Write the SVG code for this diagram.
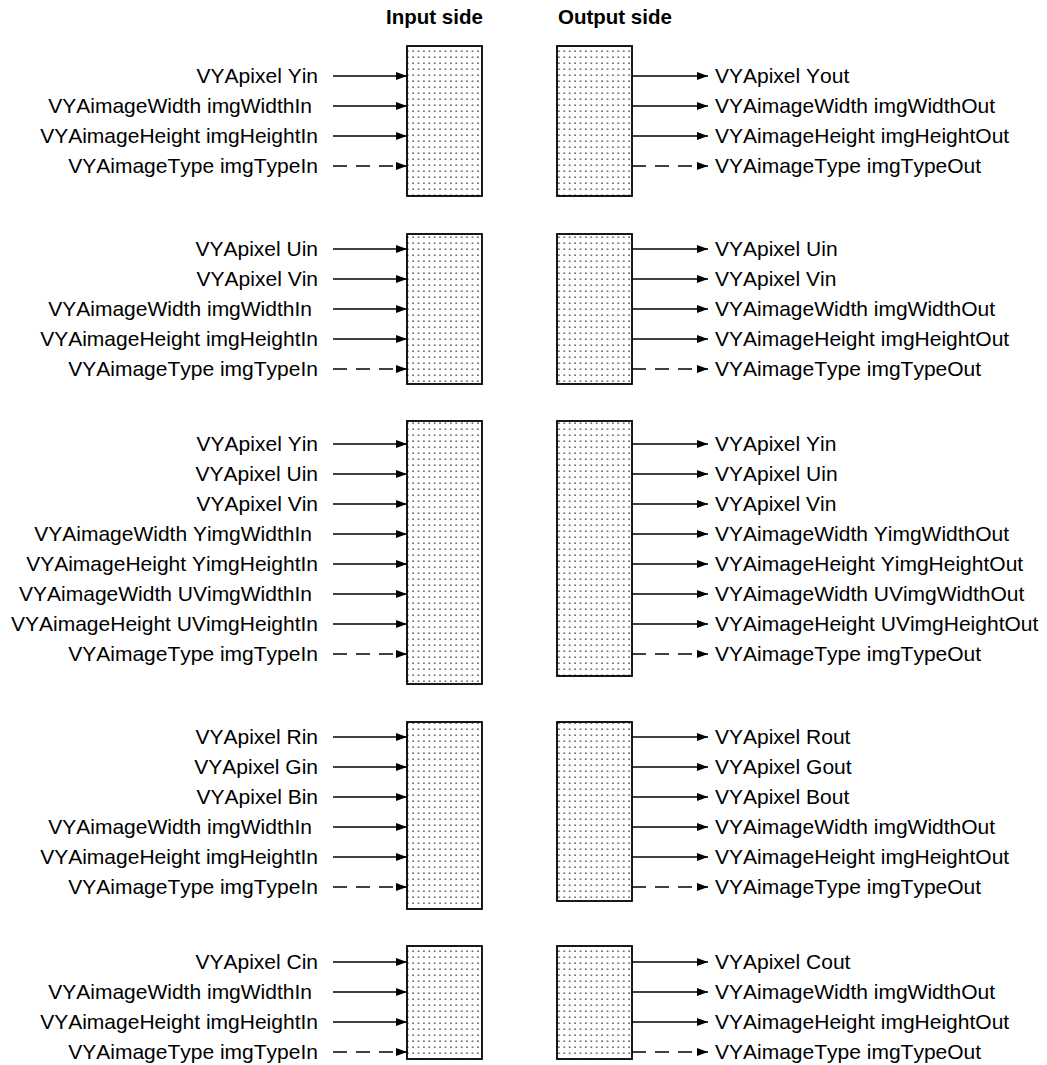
<svg xmlns="http://www.w3.org/2000/svg" width="1047" height="1065" viewBox="0 0 1047 1065">
<defs>
<style>
text{font-family:"Liberation Sans",Arial,sans-serif;font-size:21px;fill:#000;font-kerning:none}
.hdr{font-weight:bold;font-size:20.5px}
.in{text-anchor:end}
.box{fill:url(#dots);stroke:#000;stroke-width:1.8}
.c{stroke:#000;stroke-width:1.6;fill:none;marker-end:url(#ah)}
.d{stroke-dasharray:14,9}
</style>
<pattern id="dots" x="0" y="0" width="5.4" height="6" patternUnits="userSpaceOnUse">
<rect width="5.4" height="6" fill="#fff"/>
<rect x="2" y="2.5" width="1.4" height="1.4" fill="#333"/>
</pattern>
<marker id="ah" viewBox="0 0 11 8" refX="11" refY="4" markerWidth="11" markerHeight="8" markerUnits="userSpaceOnUse" orient="auto">
<path d="M0,0 L11,4 L0,8 z" fill="#000"/>
</marker>
</defs>
<rect width="1047" height="1065" fill="#fff"/>
<text class="hdr" x="386" y="24">Input side</text>
<text class="hdr" x="558" y="24">Output side</text>

<g id="in1"><rect class="box" x="407" y="46" width="75" height="150"/></g>
<g id="out1"><rect class="box" x="557" y="46" width="75" height="150"/></g>
<g id="in2"><rect class="box" x="407" y="234" width="75" height="150"/></g>
<g id="out2"><rect class="box" x="557" y="234" width="75" height="150"/></g>
<g id="in3"><rect class="box" x="407" y="421" width="75" height="263"/></g>
<g id="out3"><rect class="box" x="557" y="421" width="75" height="255"/></g>
<g id="in4"><rect class="box" x="407" y="722" width="75" height="187"/></g>
<g id="out4"><rect class="box" x="557" y="722" width="75" height="179"/></g>
<g id="in5"><rect class="box" x="407" y="946" width="75" height="113"/></g>
<g id="out5"><rect class="box" x="557" y="946" width="75" height="113"/></g>

<g id="connectors">
<line class="c" x1="333" y1="76" x2="407" y2="76"/>
<line class="c" x1="333" y1="106" x2="407" y2="106"/>
<line class="c" x1="333" y1="136" x2="407" y2="136"/>
<line class="c d" x1="333" y1="166" x2="407" y2="166"/>
<line class="c" x1="632" y1="76" x2="708" y2="76"/>
<line class="c" x1="632" y1="106" x2="708" y2="106"/>
<line class="c" x1="632" y1="136" x2="708" y2="136"/>
<line class="c d" x1="632" y1="166" x2="708" y2="166"/>

<line class="c" x1="333" y1="249" x2="407" y2="249"/>
<line class="c" x1="333" y1="279" x2="407" y2="279"/>
<line class="c" x1="333" y1="309" x2="407" y2="309"/>
<line class="c" x1="333" y1="339" x2="407" y2="339"/>
<line class="c d" x1="333" y1="369" x2="407" y2="369"/>
<line class="c" x1="632" y1="249" x2="708" y2="249"/>
<line class="c" x1="632" y1="279" x2="708" y2="279"/>
<line class="c" x1="632" y1="309" x2="708" y2="309"/>
<line class="c" x1="632" y1="339" x2="708" y2="339"/>
<line class="c d" x1="632" y1="369" x2="708" y2="369"/>

<line class="c" x1="333" y1="444" x2="407" y2="444"/>
<line class="c" x1="333" y1="474" x2="407" y2="474"/>
<line class="c" x1="333" y1="504" x2="407" y2="504"/>
<line class="c" x1="333" y1="534" x2="407" y2="534"/>
<line class="c" x1="333" y1="564" x2="407" y2="564"/>
<line class="c" x1="333" y1="594" x2="407" y2="594"/>
<line class="c" x1="333" y1="624" x2="407" y2="624"/>
<line class="c d" x1="333" y1="654" x2="407" y2="654"/>
<line class="c" x1="632" y1="444" x2="708" y2="444"/>
<line class="c" x1="632" y1="474" x2="708" y2="474"/>
<line class="c" x1="632" y1="504" x2="708" y2="504"/>
<line class="c" x1="632" y1="534" x2="708" y2="534"/>
<line class="c" x1="632" y1="564" x2="708" y2="564"/>
<line class="c" x1="632" y1="594" x2="708" y2="594"/>
<line class="c" x1="632" y1="624" x2="708" y2="624"/>
<line class="c d" x1="632" y1="654" x2="708" y2="654"/>

<line class="c" x1="333" y1="737" x2="407" y2="737"/>
<line class="c" x1="333" y1="767" x2="407" y2="767"/>
<line class="c" x1="333" y1="797" x2="407" y2="797"/>
<line class="c" x1="333" y1="827" x2="407" y2="827"/>
<line class="c" x1="333" y1="857" x2="407" y2="857"/>
<line class="c d" x1="333" y1="887" x2="407" y2="887"/>
<line class="c" x1="632" y1="737" x2="708" y2="737"/>
<line class="c" x1="632" y1="767" x2="708" y2="767"/>
<line class="c" x1="632" y1="797" x2="708" y2="797"/>
<line class="c" x1="632" y1="827" x2="708" y2="827"/>
<line class="c" x1="632" y1="857" x2="708" y2="857"/>
<line class="c d" x1="632" y1="887" x2="708" y2="887"/>

<line class="c" x1="333" y1="962" x2="407" y2="962"/>
<line class="c" x1="333" y1="992" x2="407" y2="992"/>
<line class="c" x1="333" y1="1022" x2="407" y2="1022"/>
<line class="c d" x1="333" y1="1052" x2="407" y2="1052"/>
<line class="c" x1="632" y1="962" x2="708" y2="962"/>
<line class="c" x1="632" y1="992" x2="708" y2="992"/>
<line class="c" x1="632" y1="1022" x2="708" y2="1022"/>
<line class="c d" x1="632" y1="1052" x2="708" y2="1052"/>
</g>

<g id="labels-in">
<text class="in" x="318" y="83">VYApixel Yin</text>
<text class="in" x="312" y="113">VYAimageWidth imgWidthIn</text>
<text class="in" x="318" y="143">VYAimageHeight imgHeightIn</text>
<text class="in" x="318" y="173">VYAimageType imgTypeIn</text>

<text class="in" x="318" y="256">VYApixel Uin</text>
<text class="in" x="318" y="286">VYApixel Vin</text>
<text class="in" x="312" y="316">VYAimageWidth imgWidthIn</text>
<text class="in" x="318" y="346">VYAimageHeight imgHeightIn</text>
<text class="in" x="318" y="376">VYAimageType imgTypeIn</text>

<text class="in" x="318" y="451">VYApixel Yin</text>
<text class="in" x="318" y="481">VYApixel Uin</text>
<text class="in" x="318" y="511">VYApixel Vin</text>
<text class="in" x="312" y="541">VYAimageWidth YimgWidthIn</text>
<text class="in" x="318" y="571">VYAimageHeight YimgHeightIn</text>
<text class="in" x="312" y="601">VYAimageWidth UVimgWidthIn</text>
<text class="in" x="318" y="631">VYAimageHeight UVimgHeightIn</text>
<text class="in" x="318" y="661">VYAimageType imgTypeIn</text>

<text class="in" x="318" y="744">VYApixel Rin</text>
<text class="in" x="318" y="774">VYApixel Gin</text>
<text class="in" x="318" y="804">VYApixel Bin</text>
<text class="in" x="312" y="834">VYAimageWidth imgWidthIn</text>
<text class="in" x="318" y="864">VYAimageHeight imgHeightIn</text>
<text class="in" x="318" y="894">VYAimageType imgTypeIn</text>

<text class="in" x="318" y="969">VYApixel Cin</text>
<text class="in" x="312" y="999">VYAimageWidth imgWidthIn</text>
<text class="in" x="318" y="1029">VYAimageHeight imgHeightIn</text>
<text class="in" x="318" y="1059">VYAimageType imgTypeIn</text>
</g>

<g id="labels-out">
<text x="715" y="83">VYApixel Yout</text>
<text x="715" y="113">VYAimageWidth imgWidthOut</text>
<text x="715" y="143">VYAimageHeight imgHeightOut</text>
<text x="715" y="173">VYAimageType imgTypeOut</text>

<text x="715" y="256">VYApixel Uin</text>
<text x="715" y="286">VYApixel Vin</text>
<text x="715" y="316">VYAimageWidth imgWidthOut</text>
<text x="715" y="346">VYAimageHeight imgHeightOut</text>
<text x="715" y="376">VYAimageType imgTypeOut</text>

<text x="715" y="451">VYApixel Yin</text>
<text x="715" y="481">VYApixel Uin</text>
<text x="715" y="511">VYApixel Vin</text>
<text x="715" y="541">VYAimageWidth YimgWidthOut</text>
<text x="715" y="571">VYAimageHeight YimgHeightOut</text>
<text x="715" y="601">VYAimageWidth UVimgWidthOut</text>
<text x="715" y="631">VYAimageHeight UVimgHeightOut</text>
<text x="715" y="661">VYAimageType imgTypeOut</text>

<text x="715" y="744">VYApixel Rout</text>
<text x="715" y="774">VYApixel Gout</text>
<text x="715" y="804">VYApixel Bout</text>
<text x="715" y="834">VYAimageWidth imgWidthOut</text>
<text x="715" y="864">VYAimageHeight imgHeightOut</text>
<text x="715" y="894">VYAimageType imgTypeOut</text>

<text x="715" y="969">VYApixel Cout</text>
<text x="715" y="999">VYAimageWidth imgWidthOut</text>
<text x="715" y="1029">VYAimageHeight imgHeightOut</text>
<text x="715" y="1059">VYAimageType imgTypeOut</text>
</g>
</svg>
